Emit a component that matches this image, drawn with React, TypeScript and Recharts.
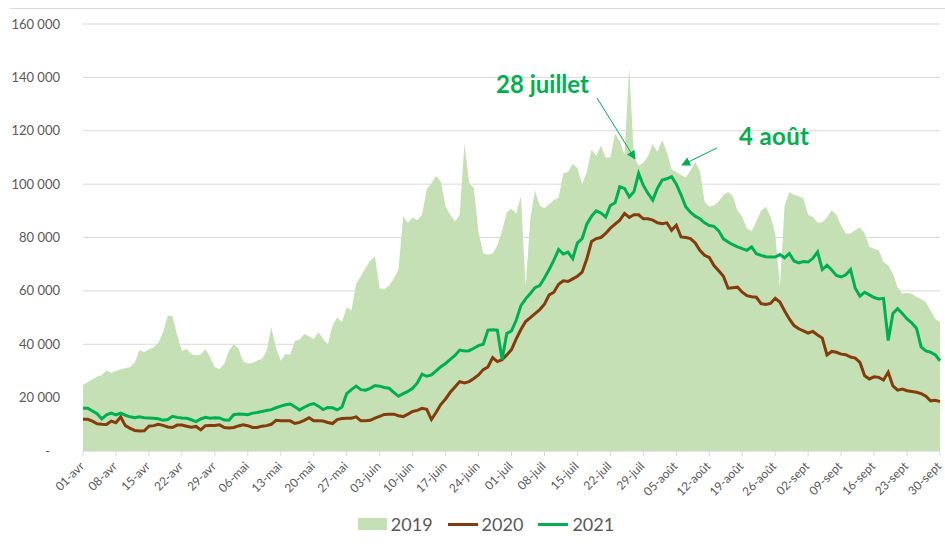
import React from "react";
import {
  ComposedChart,
  Area,
  Line,
  XAxis,
  YAxis,
  CartesianGrid,
  Legend,
} from "recharts";

// daily categories, 01-avr .. 30-sept
const months = [
  { name: "avr", days: 30 },
  { name: "mai", days: 31 },
  { name: "juin", days: 30 },
  { name: "juil", days: 31 },
  { name: "août", days: 31 },
  { name: "sept", days: 30 },
];

const days: string[] = months.flatMap((m) =>
  Array.from({ length: m.days }, (_, i) => `${String(i + 1).padStart(2, "0")}-${m.name}`)
);

const values2019 = [
  24700, 25800, 26800, 27800, 28500, 30200, 29200, 30000, 30600, 31000,
  31500, 33200, 37800, 37000, 38000, 38800, 40500, 44500, 50800, 50500,
  43500, 37500, 38200, 36300, 35800, 36200, 38200, 35200, 31400, 30700,
  32600, 37600, 40000, 38500, 33500, 32800, 33000, 33800, 34600, 37500,
  46400, 38500, 33800, 36300, 36100, 41200, 41700, 43800, 43000, 42000,
  44500, 42000, 39900, 47000, 50000, 48200, 53900, 52600, 62700, 65500,
  68500, 71400, 72900, 61000, 60500, 62000, 64500, 68000, 88000, 85500,
  87500, 86500, 88500, 98000, 100300, 103000, 101000, 91500, 88500, 86000,
  88500, 115000, 100500, 98500, 82000, 74000, 73500, 74000, 77000, 82500,
  89500, 90800, 89000, 95500, 61500, 87000, 97500, 92000, 91000, 92500,
  94000, 95000, 104000, 104500, 107500, 106000, 100000, 104500, 113000, 110500,
  114500, 110000, 110000, 119000, 116000, 111000, 143500, 110000, 107000, 108000,
  110500, 115000, 112000, 116500, 112000, 105500, 104500, 103400, 102500, 105000,
  108400, 105000, 93500, 91600, 92000, 93500, 96000, 97000, 95500, 90000,
  87800, 83500, 82300, 86000, 90000, 91500, 88000, 81500, 61500, 92000,
  97000, 96000, 95500, 94600, 88400, 87700, 85500, 85700, 87500, 90200,
  88500, 84500, 81500, 81500, 82700, 83800, 81500, 76500, 75800, 75200,
  70800, 69600, 66400, 61400, 58900, 59200, 58900, 57700, 57000, 55800,
  52600, 49500, 48300,
];

const values2020 = [
  11900, 11900, 11200, 10200, 10000, 9900, 11200, 10600, 12800, 9500,
  8500, 7700, 7500, 7600, 9300, 9500, 10000, 9600, 9000, 8800,
  9700, 9700, 9300, 8900, 9200, 7900, 9500, 9600, 9600, 9800,
  8800, 8600, 8800, 9400, 9800, 9500, 8800, 8800, 9300, 9500,
  10000, 11500, 11300, 11300, 11300, 10300, 10700, 11500, 12500, 11300,
  11300, 11200, 10700, 10300, 11800, 12200, 12300, 12300, 12800, 11300,
  11300, 11500, 12300, 13000, 13700, 13800, 13800, 13200, 12900, 13800,
  14800, 15200, 16000, 15600, 11800, 14500, 17500, 19500, 22000, 24000,
  26000, 25500, 26000, 27200, 28500, 30500, 31500, 35000, 33500, 34200,
  36000, 38000, 42000, 45500, 48500, 50000, 51500, 53000, 55000, 58500,
  59500, 62500, 63800, 63500, 64500, 65500, 67000, 72000, 78500, 79600,
  80000, 81500, 83500, 85000, 86500, 89000, 87500, 88500, 88500, 87000,
  87000, 86500, 85500, 85200, 85500, 82700, 84600, 80200, 80000, 79600,
  78000, 75200, 73300, 72500, 69500, 67500, 65500, 61000, 61200, 61400,
  59500, 58200, 57800, 57600, 55200, 54900, 55300, 57200, 55800, 52500,
  49500, 47000, 45800, 45000, 44200, 44800, 43500, 42300, 36000, 37300,
  37000, 36300, 36100, 35200, 34800, 33200, 28200, 27000, 27800, 27600,
  26600, 29500, 24400, 22800, 23200, 22600, 22300, 22000, 21500, 20500,
  18800, 19000, 18500,
];

const values2021 = [
  16000, 16000, 15000, 14000, 12000, 13600, 14200, 13500, 14200, 13400,
  12800, 12500, 12800, 12500, 12400, 12300, 12100, 11500, 11800, 13000,
  12600, 12400, 12300, 11700, 11000, 12000, 12600, 12300, 12500, 12400,
  11600, 11500, 13600, 13900, 13800, 13600, 14200, 14400, 14800, 15200,
  15500, 16200, 16800, 17300, 17600, 16600, 15400, 16400, 17300, 17800,
  16800, 15500, 16300, 16200, 15400, 16500, 21500, 23000, 24300, 23000,
  22800, 23500, 24500, 24300, 23800, 23500, 22000, 20500, 21500, 22300,
  23500, 25500, 28800, 28000, 28500, 30000, 31600, 32800, 34300, 35800,
  37800, 37500, 37600, 38500, 39500, 40000, 45300, 45400, 45300, 34300,
  44000, 45000, 49000, 54500, 57000, 59000, 61200, 62000, 64800, 68000,
  71500, 75500, 73800, 74500, 72100, 78000, 79600, 85000, 88000, 90000,
  89200, 87700, 92000, 93000, 99000, 98400, 95200, 97100, 104000, 99500,
  96500, 94000, 98500, 101500, 102000, 102800, 100000, 96000, 91500, 89500,
  88000, 87000, 85500, 84500, 84200, 82500, 79500, 78300, 77300, 76500,
  75800, 75200, 76500, 73900, 73300, 72800, 72700, 72700, 73600, 72400,
  74000, 71200, 70500, 71000, 70800, 72200, 74600, 68000, 69600, 67800,
  65800, 65200, 66000, 68000, 61000, 58000, 59500, 58500, 57500, 57000,
  57200, 41400, 51500, 53300, 51500, 49500, 48000, 46000, 39000, 37500,
  37000, 36000, 33800,
];

const yTicks = [0, 20000, 40000, 60000, 80000, 100000, 120000, 140000, 160000];

const seriesColors: Record<string, string> = {
  "2019": "#c5e0b4",
  "2020": "#843c0c",
  "2021": "#00b050",
};

const data = days.map((day, i) => ({
  day,
  y2019: values2019[i],
  y2020: values2020[i],
  y2021: values2021[i],
}));

const FONT = "Lato, 'Liberation Sans', sans-serif";

const formatY = (v: number) =>
  v === 0 ? "-\u00a0\u00a0\u00a0" : String(v).replace(/\B(?=(\d{3})+(?!\d))/g, "\u00a0");

// rotated date label, its end sits just under the tick
function DayTick(props: any) {
  const { x, y, payload } = props;
  return (
    <g transform={`translate(${x - 1},${y + 6})`}>
      <text
        textAnchor="end"
        transform="rotate(-45)"
        dy="0.35em"
        fill="#595959"
        fontSize={12}
        fontFamily={FONT}
      >
        {payload.value}
      </text>
    </g>
  );
}

function LegendContent(props: any) {
  const items = props.payload || [];
  return (
    <div
      style={{
        display: "flex",
        justifyContent: "center",
        alignItems: "center",
        gap: 15,
        paddingLeft: 32,
        fontFamily: FONT,
        fontSize: 18,
        color: "#595959",
      }}
    >
      {items.map((it: any) => {
        const color = seriesColors[it.value];
        return (
          <div key={it.value} style={{ display: "flex", alignItems: "center", gap: 4 }}>
            {it.value === "2019" ? (
              <span style={{ width: 29, height: 12, background: color, display: "inline-block" }} />
            ) : (
              <span style={{ width: 30, height: 3, background: color, display: "inline-block" }} />
            )}
            <span>{it.value}</span>
          </div>
        );
      })}
    </div>
  );
}

export default function App() {
  return (
    <div style={{ position: "absolute", left: 0, top: 0, width: 945, height: 549, background: "#fff" }}>
      <div style={{ position: "absolute", left: 10, right: 0, top: 8, borderTop: "1px solid #d9d9d9" }} />
      <ComposedChart
        width={945}
        height={549}
        data={data}
        margin={{ top: 24, right: 5, left: 0, bottom: 6 }}
      >
        <CartesianGrid vertical={false} stroke="#d9d9d9" strokeWidth={1} />
        <XAxis
          dataKey="day"
          scale="point"
          interval={6}
          padding={{ left: 0, right: 0 }}
          height={62}
          tickSize={5}
          tick={<DayTick />}
          tickLine={{ stroke: "#d9d9d9" }}
          axisLine={{ stroke: "#d9d9d9" }}
        />
        <YAxis
          domain={[0, 160000]}
          ticks={yTicks}
          width={83}
          axisLine={false}
          tickLine={false}
          tickSize={0}
          tickMargin={23}
          tickFormatter={formatY}
          tick={{ fill: "#595959", fontSize: 13, fontFamily: FONT }}
        />
        <Legend verticalAlign="bottom" content={<LegendContent />} wrapperStyle={{ height: 30 }} />
        <Area
          type="linear"
          dataKey="y2019"
          name="2019"
          fill="#c5e0b4"
          fillOpacity={1}
          stroke="none"
          isAnimationActive={false}
        />
        <Line
          type="linear"
          dataKey="y2020"
          name="2020"
          stroke="#843c0c"
          strokeWidth={3}
          dot={false}
          isAnimationActive={false}
        />
        <Line
          type="linear"
          dataKey="y2021"
          name="2021"
          stroke="#00b050"
          strokeWidth={3}
          dot={false}
          isAnimationActive={false}
        />
      </ComposedChart>
      <svg
        width={945}
        height={549}
        style={{ position: "absolute", left: 0, top: 0, pointerEvents: "none" }}
      >
        <defs>
          <marker id="arrow" viewBox="0 0 10 10" refX="9" refY="5" markerWidth="9" markerHeight="9" orient="auto">
            <path d="M0,0 L10,5 L0,10 z" fill="#00b050" />
          </marker>
        </defs>
        <text x={496} y={93} fill="#00b050" fontFamily={FONT} fontWeight="bold" fontSize={24}>
          28 juillet
        </text>
        <text x={739} y={145} fill="#00b050" fontFamily={FONT} fontWeight="bold" fontSize={24} textLength={70}>
          4 août
        </text>
        <line x1={597} y1={98} x2={635} y2={159} stroke="#00b050" strokeWidth={1} markerEnd="url(#arrow)" />
        <line x1={717} y1={148} x2={682} y2={165} stroke="#00b050" strokeWidth={1} markerEnd="url(#arrow)" />
      </svg>
    </div>
  );
}
